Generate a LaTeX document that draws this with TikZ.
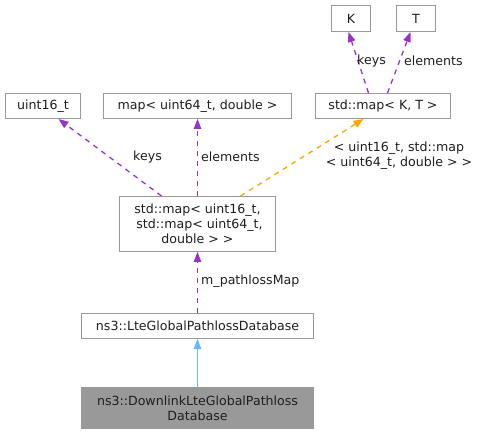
\documentclass[tikz,border=0pt]{standalone}
\usepackage{fontspec}
\setmainfont{DejaVu Sans}
\usetikzlibrary{arrows.meta}
\definecolor{boxline}{RGB}{153,153,153}
\definecolor{txt}{RGB}{30,30,30}
\definecolor{purp}{RGB}{153,50,204}
\definecolor{orng}{RGB}{255,165,0}
\definecolor{blu}{RGB}{99,184,255}
\definecolor{grayfill}{RGB}{153,153,153}
\tikzset{
  cls/.style={draw=boxline, line width=1pt, fill=white, inner sep=0pt, align=center, text=txt,
    font=\fontsize{12.6}{14.8}\selectfont},
  lbl/.style={text=txt, font=\fontsize{12.6}{14.8}\selectfont, inner sep=0pt, align=center},
  usedby/.style={color=purp, line width=1.3pt, dash pattern=on 5pt off 5pt,
    -{Triangle[length=10pt,width=7.5pt]}},
  tmpl/.style={color=orng, line width=1.3pt, dash pattern=on 5pt off 5pt,
    -{Triangle[length=10pt,width=7.5pt]}},
  inh/.style={color=blu, line width=1.3pt, -{Triangle[length=10pt,width=7.5pt]}}
}
\begin{document}
\begin{tikzpicture}[x=1pt,y=-1pt]
\useasboundingbox (0,0) rectangle (480,433);
\node[cls, minimum width=39pt, minimum height=26pt] (K) at (351,18.5) {K};
\node[cls, minimum width=39pt, minimum height=26pt] (T) at (416,18.5) {T};
\node[cls, minimum width=75pt, minimum height=25pt] (u16) at (43,106) {uint16\_t};
\node[cls, minimum width=188pt, minimum height=25pt] (m64) at (197.5,106) {map< uint64\_t, double >};
\node[cls, minimum width=135pt, minimum height=25pt] (mKT) at (383,106) {std::map< K, T >};
\node[cls, minimum width=156pt, minimum height=55pt] (mU) at (197.5,224) {std::map< uint16\_t,\\~std::map< uint64\_t,\\double > >};
\node[cls, minimum width=232pt, minimum height=25pt] (lte) at (197.5,326) {ns3::LteGlobalPathlossDatabase};
\node[cls, minimum width=232pt, minimum height=41pt, fill=grayfill] (dl) at (197.5,408) {ns3::DownlinkLteGlobalPathloss\\Database};

\draw[usedby] ([xshift=-14.5pt]mKT.north) -- ([xshift=-2.5pt]K.south);
\draw[usedby] ([xshift=4.5pt]mKT.north) -- ([xshift=-5.5pt]T.south);
\draw[usedby] ([xshift=-36pt]mU.north) -- ([xshift=15.5pt]u16.south);
\draw[usedby] (mU.north) -- (m64.south);
\draw[tmpl] ([xshift=43pt]mU.north) -- ([xshift=-19.5pt]mKT.south);
\draw[usedby] (lte.north) -- (mU.south);
\draw[inh] (dl.north) -- (lte.south);

\node[lbl, anchor=west] (l1) at (357,61) {keys};
\node[lbl, anchor=west] (l2) at (404,61) {elements};
\node[lbl, anchor=west] (l3) at (133,157) {keys};
\node[lbl, anchor=west] (l4) at (201,157) {elements};
\node[lbl, anchor=center] (l5) at (399,155.5) {< uint16\_t, std::map~\\< uint64\_t, double > >};
\node[lbl, anchor=west] (l6) at (201,281) {m\_pathlossMap};
\end{tikzpicture}
\end{document}
